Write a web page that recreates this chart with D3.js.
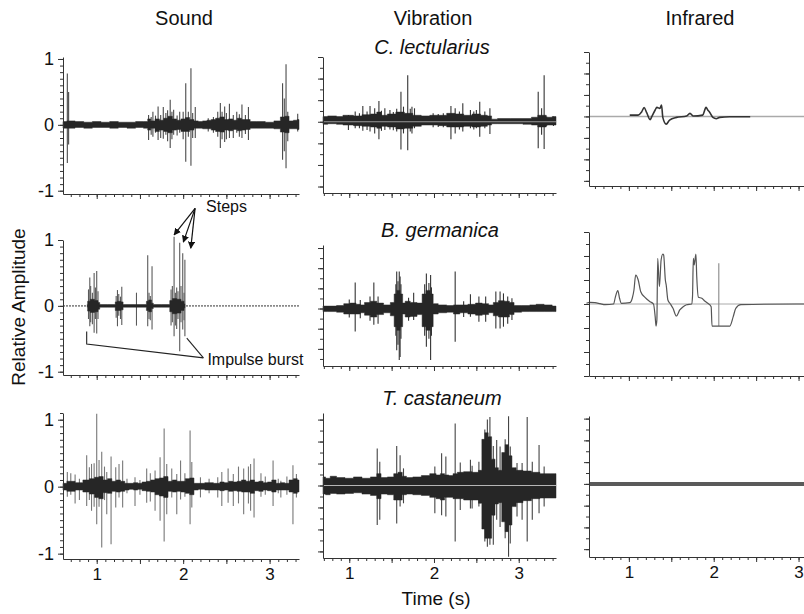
<!DOCTYPE html>
<html>
<head>
<meta charset="utf-8">
<script src="https://cdn.jsdelivr.net/npm/d3@7"></script>
<style>
  body { margin: 0; background: #fff; }
  svg text { font-family: "Liberation Sans", Arial, sans-serif; fill: #111; }
</style>
</head>
<body>
<svg id="chart" width="804" height="614"></svg>
<script>
// column / row titles
const columns = ['Sound', 'Vibration', 'Infrared'];
const species = ['C. lectularius', 'B. germanica', 'T. castaneum'];
const ampTicks = [-1, 0, 1];
const timeTicks = [1, 2, 3];

// envelopes: [time, upper, lower]; spikes: [time, top, bottom]; traces: [time, value]
const sound1Env = [[0.61,0.05,-0.05],[0.7,0.06,-0.05],[0.8,0.05,-0.04],[0.9,0.04,-0.05],[1.0,0.05,-0.04],[1.1,0.04,-0.04],[1.2,0.05,-0.05],[1.3,0.04,-0.04],[1.4,0.04,-0.05],[1.5,0.05,-0.04],[1.58,0.05,-0.05],[1.6,0.09,-0.08],[1.65,0.06,-0.05],[1.7,0.09,-0.1],[1.75,0.07,-0.08],[1.8,0.1,-0.1],[1.85,0.13,-0.12],[1.9,0.09,-0.08],[1.95,0.07,-0.07],[2.0,0.09,-0.1],[2.05,0.11,-0.1],[2.1,0.08,-0.08],[2.15,0.06,-0.05],[2.2,0.05,-0.05],[2.25,0.06,-0.06],[2.3,0.07,-0.06],[2.35,0.08,-0.08],[2.4,0.1,-0.1],[2.45,0.12,-0.11],[2.5,0.08,-0.08],[2.55,0.09,-0.09],[2.6,0.07,-0.07],[2.65,0.1,-0.09],[2.7,0.08,-0.08],[2.75,0.08,-0.07],[2.8,0.05,-0.05],[2.9,0.05,-0.05],[3.0,0.04,-0.05],[3.1,0.06,-0.06],[3.15,0.12,-0.11],[3.2,0.13,-0.12],[3.25,0.06,-0.06],[3.3,0.07,-0.06],[3.34,0.08,-0.07]];
const sound1Spikes = [[0.66,0.78,-0.58],[0.675,0.5,-0.3],[1.6,0.15,-0.23],[1.63,0.12,-0.15],[1.65,0.2,-0.18],[1.68,0.14,-0.12],[1.71,0.28,-0.23],[1.74,0.15,-0.2],[1.77,0.27,-0.21],[1.8,0.18,-0.15],[1.82,0.22,-0.25],[1.85,0.38,-0.35],[1.87,0.2,-0.22],[1.89,0.23,-0.15],[1.93,0.14,-0.16],[1.96,0.2,-0.12],[2.0,0.2,-0.22],[2.03,0.63,-0.56],[2.06,0.2,-0.18],[2.09,0.86,-0.62],[2.11,0.18,-0.2],[2.14,0.27,-0.2],[2.29,0.1,-0.1],[2.35,0.12,-0.12],[2.4,0.2,-0.18],[2.43,0.33,-0.35],[2.45,0.2,-0.22],[2.48,0.28,-0.26],[2.5,0.18,-0.22],[2.535,0.32,-0.2],[2.58,0.15,-0.2],[2.62,0.2,-0.12],[2.65,0.16,-0.18],[2.68,0.31,-0.2],[2.72,0.15,-0.14],[2.755,0.27,-0.23],[3.15,0.63,-0.53],[3.17,0.4,-0.4],[3.19,0.92,-0.66],[3.21,0.2,-0.25],[3.325,0.17,-0.1]];

const sound2Env = [[0.89,0.02,-0.02],[0.9,0.07,-0.08],[0.95,0.1,-0.1],[1.0,0.08,-0.09],[1.03,0.05,-0.05],[1.04,0.02,-0.02],[1.21,0.02,-0.02],[1.22,0.06,-0.07],[1.26,0.07,-0.07],[1.3,0.06,-0.06],[1.31,0.02,-0.02],[1.57,0.02,-0.02],[1.58,0.07,-0.07],[1.62,0.09,-0.09],[1.65,0.04,-0.04],[1.66,0.02,-0.02],[1.84,0.02,-0.02],[1.85,0.08,-0.09],[1.9,0.11,-0.12],[1.95,0.1,-0.11],[2.0,0.07,-0.07],[2.02,0.03,-0.03]];
const sound2Spikes = [[0.905,0.25,-0.2],[0.92,0.43,-0.31],[0.93,0.3,-0.25],[0.95,0.2,-0.28],[0.97,0.5,-0.41],[0.985,0.28,-0.2],[1.0,0.53,-0.42],[1.015,0.22,-0.2],[1.225,0.15,-0.18],[1.24,0.24,-0.31],[1.255,0.18,-0.15],[1.275,0.14,-0.2],[1.29,0.29,-0.29],[1.46,0.2,-0.3],[1.59,0.77,-0.31],[1.605,0.2,-0.2],[1.62,0.15,-0.22],[1.64,0.6,-0.36],[1.86,0.25,-0.3],[1.875,0.3,-0.25],[1.895,1.05,-0.46],[1.91,0.2,-0.3],[1.925,0.28,-0.35],[1.94,0.22,-0.2],[1.96,0.96,-0.69],[1.975,0.3,-0.25],[1.995,0.8,-0.36],[2.01,0.2,-0.22],[2.02,0.7,-0.46]];

const sound3Env = [[0.61,0.05,-0.05],[0.7,0.08,-0.07],[0.8,0.06,-0.05],[0.88,0.1,-0.08],[0.95,0.12,-0.11],[1.0,0.14,-0.16],[1.05,0.15,-0.18],[1.1,0.1,-0.09],[1.15,0.12,-0.1],[1.2,0.08,-0.07],[1.25,0.1,-0.08],[1.3,0.08,-0.07],[1.35,0.05,-0.05],[1.4,0.05,-0.04],[1.45,0.06,-0.05],[1.5,0.05,-0.04],[1.55,0.07,-0.06],[1.6,0.08,-0.07],[1.65,0.1,-0.08],[1.7,0.12,-0.12],[1.75,0.13,-0.14],[1.8,0.15,-0.16],[1.85,0.08,-0.07],[1.9,0.1,-0.08],[1.95,0.08,-0.07],[2.0,0.08,-0.08],[2.05,0.12,-0.1],[2.1,0.13,-0.12],[2.15,0.05,-0.05],[2.2,0.05,-0.04],[2.3,0.06,-0.05],[2.4,0.05,-0.05],[2.45,0.07,-0.06],[2.5,0.06,-0.05],[2.55,0.08,-0.07],[2.6,0.07,-0.06],[2.65,0.08,-0.07],[2.7,0.1,-0.08],[2.75,0.08,-0.08],[2.8,0.1,-0.1],[2.85,0.07,-0.06],[2.9,0.08,-0.07],[2.95,0.06,-0.05],[3.0,0.07,-0.06],[3.05,0.1,-0.08],[3.1,0.05,-0.05],[3.15,0.06,-0.05],[3.2,0.05,-0.05],[3.25,0.1,-0.08],[3.3,0.12,-0.1],[3.34,0.1,-0.08]];
const sound3Spikes = [[0.66,0.22,-0.15],[0.7,0.2,-0.12],[0.75,0.18,-0.25],[0.8,0.12,-0.2],[0.884,0.47,-0.29],[0.915,0.29,-0.2],[0.94,0.34,-0.36],[0.97,0.35,-0.3],[1.0,1.09,-0.56],[1.027,0.4,-0.3],[1.058,0.52,-0.91],[1.09,0.3,-0.2],[1.116,0.22,-0.41],[1.166,0.45,-0.86],[1.22,0.29,-0.31],[1.258,0.34,-0.16],[1.3,0.39,-0.31],[1.35,0.12,-0.1],[1.443,0.14,-0.29],[1.5,0.1,-0.12],[1.578,0.27,-0.24],[1.62,0.2,-0.22],[1.675,0.24,-0.36],[1.733,0.44,-0.51],[1.78,0.87,-0.82],[1.81,0.34,-0.41],[1.868,0.27,-0.16],[1.926,0.19,-0.41],[1.97,0.39,-0.19],[2.02,0.2,-0.15],[2.08,0.84,-0.56],[2.1,0.37,-0.31],[2.2,0.14,-0.16],[2.3,0.12,-0.1],[2.4,0.14,-0.16],[2.447,0.22,-0.29],[2.52,0.27,-0.24],[2.58,0.19,-0.29],[2.64,0.3,-0.25],[2.7,0.27,-0.41],[2.755,0.3,-0.25],[2.78,0.34,-0.36],[2.82,0.42,-0.46],[2.9,0.2,-0.15],[2.95,0.15,-0.12],[3.04,0.39,-0.29],[3.1,0.12,-0.1],[3.13,0.09,-0.16],[3.2,0.15,-0.12],[3.27,0.32,-0.56],[3.31,0.19,-0.16]];

const vib1Env = [[0.69,0.08,-0.04],[0.8,0.09,-0.03],[0.9,0.08,-0.04],[0.95,0.1,-0.05],[1.0,0.1,-0.05],[1.1,0.09,-0.06],[1.2,0.11,-0.07],[1.3,0.12,-0.08],[1.35,0.15,-0.1],[1.4,0.1,-0.07],[1.5,0.12,-0.08],[1.6,0.15,-0.11],[1.7,0.13,-0.1],[1.8,0.1,-0.07],[1.9,0.09,-0.05],[2.0,0.1,-0.05],[2.1,0.1,-0.06],[2.2,0.13,-0.08],[2.3,0.12,-0.08],[2.4,0.1,-0.07],[2.5,0.12,-0.08],[2.6,0.1,-0.07],[2.66,0.09,-0.05],[2.7,0.04,-0.03],[2.8,0.05,-0.03],[3.0,0.05,-0.03],[3.1,0.05,-0.04],[3.2,0.07,-0.05],[3.25,0.1,-0.08],[3.3,0.1,-0.08],[3.35,0.07,-0.05],[3.44,0.08,-0.05]];
const vib1Spikes = [[0.99,0.105,-0.126],[1.07,0.157,-0.1],[1.12,0.13,-0.1],[1.16,0.243,-0.137],[1.21,0.157,-0.126],[1.245,0.243,-0.152],[1.3,0.208,-0.18],[1.35,0.32,-0.27],[1.38,0.17,-0.14],[1.42,0.208,-0.126],[1.48,0.18,-0.12],[1.52,0.15,-0.13],[1.56,0.2,-0.15],[1.61,0.465,-0.43],[1.64,0.233,-0.18],[1.69,0.72,-0.44],[1.72,0.2,-0.15],[1.74,0.233,-0.18],[1.77,0.208,-0.1],[1.99,0.13,-0.085],[2.05,0.12,-0.08],[2.11,0.13,-0.085],[2.2,0.243,-0.27],[2.25,0.208,-0.18],[2.3,0.16,-0.12],[2.34,0.285,-0.152],[2.43,0.18,-0.1],[2.47,0.16,-0.12],[2.5,0.18,-0.1],[2.54,0.31,-0.23],[2.6,0.157,-0.1],[2.66,0.208,-0.19],[3.23,0.465,-0.41],[3.27,0.208,-0.2],[3.3,0.72,-0.42],[3.33,0.08,-0.065],[3.41,0.08,-0.065]];

const vib2Env = [[0.69,0.04,-0.05],[0.8,0.04,-0.05],[0.9,0.05,-0.06],[0.97,0.08,-0.09],[1.05,0.09,-0.09],[1.11,0.07,-0.09],[1.15,0.06,-0.07],[1.21,0.1,-0.11],[1.29,0.12,-0.14],[1.36,0.09,-0.1],[1.45,0.06,-0.07],[1.52,0.1,-0.12],[1.54,0.24,-0.3],[1.58,0.3,-0.36],[1.62,0.24,-0.3],[1.64,0.09,-0.09],[1.68,0.12,-0.14],[1.76,0.1,-0.13],[1.84,0.09,-0.1],[1.88,0.24,-0.3],[1.93,0.3,-0.36],[1.98,0.24,-0.3],[2.0,0.08,-0.09],[2.1,0.06,-0.07],[2.2,0.05,-0.06],[2.26,0.06,-0.09],[2.35,0.06,-0.07],[2.45,0.07,-0.09],[2.53,0.09,-0.11],[2.61,0.08,-0.1],[2.68,0.06,-0.07],[2.72,0.1,-0.12],[2.8,0.13,-0.14],[2.86,0.12,-0.14],[2.92,0.1,-0.1],[2.97,0.05,-0.06],[3.1,0.05,-0.05],[3.16,0.06,-0.05],[3.25,0.07,-0.05],[3.35,0.06,-0.05],[3.44,0.04,-0.05]];
const vib2Spikes = [[1.0,0.15,-0.15],[1.07,0.43,-0.38],[1.13,0.14,-0.16],[1.245,0.2,-0.2],[1.29,0.43,-0.27],[1.34,0.2,-0.25],[1.55,0.4,-0.45],[1.56,0.61,-0.69],[1.575,0.45,-0.6],[1.59,0.61,-0.85],[1.6,0.53,-0.8],[1.61,0.4,-0.5],[1.7,0.18,-0.2],[1.76,0.26,-0.19],[1.89,0.4,-0.45],[1.91,0.58,-0.63],[1.94,0.42,-0.5],[1.96,0.555,-0.85],[1.97,0.35,-0.45],[2.25,0.61,-0.55],[2.35,0.12,-0.14],[2.43,0.235,-0.135],[2.53,0.2,-0.22],[2.61,0.2,-0.22],[2.73,0.28,-0.33],[2.78,0.28,-0.33],[2.82,0.25,-0.3],[2.87,0.2,-0.25],[2.92,0.17,-0.19]];

const vib3Env = [[0.69,0.13,-0.13],[0.75,0.11,-0.14],[0.8,0.14,-0.12],[0.9,0.12,-0.13],[1.0,0.11,-0.12],[1.1,0.13,-0.11],[1.2,0.11,-0.13],[1.3,0.13,-0.15],[1.35,0.18,-0.2],[1.4,0.12,-0.13],[1.5,0.13,-0.14],[1.55,0.18,-0.22],[1.6,0.2,-0.22],[1.65,0.14,-0.14],[1.7,0.12,-0.13],[1.8,0.13,-0.14],[1.9,0.15,-0.15],[2.0,0.18,-0.18],[2.05,0.16,-0.2],[2.1,0.18,-0.22],[2.15,0.16,-0.18],[2.2,0.15,-0.18],[2.25,0.18,-0.2],[2.3,0.2,-0.2],[2.4,0.21,-0.22],[2.5,0.2,-0.22],[2.55,0.23,-0.27],[2.58,0.7,-0.66],[2.62,0.8,-0.8],[2.66,0.74,-0.8],[2.7,0.4,-0.45],[2.74,0.27,-0.28],[2.78,0.23,-0.26],[2.82,0.5,-0.55],[2.86,0.62,-0.7],[2.9,0.45,-0.6],[2.94,0.27,-0.32],[3.0,0.23,-0.26],[3.1,0.22,-0.23],[3.2,0.2,-0.2],[3.3,0.18,-0.19],[3.44,0.18,-0.19]];
const vib3Spikes = [[1.33,0.56,-0.6],[1.36,0.36,-0.52],[1.56,0.6,-0.575],[1.6,0.46,-0.32],[1.64,0.26,-0.27],[2.01,0.29,-0.42],[2.09,0.49,-0.45],[2.14,0.44,-0.47],[2.25,0.94,-0.85],[2.31,0.35,-0.37],[2.43,0.39,-0.35],[2.45,0.3,-0.35],[2.53,0.36,-0.32],[2.6,0.85,-0.85],[2.63,1.0,-0.93],[2.66,1.04,-0.9],[2.7,0.6,-0.9],[2.74,0.69,-0.52],[2.78,0.59,-0.63],[2.84,0.7,-0.8],[2.88,1.05,-1.08],[2.9,0.59,-0.88],[2.98,0.34,-0.47],[3.04,0.34,-0.52],[3.1,1.04,-0.85],[3.16,0.36,-0.52],[3.24,0.613,-0.42],[3.3,0.29,-0.32]];

const ir1Trace = [[1.01,0.02],[1.11,0.02],[1.15,0.07],[1.18,0.136],[1.21,0.058],[1.25,-0.05],[1.27,-0.004],[1.31,0.1],[1.33,0.14],[1.365,0.125],[1.385,0.177],[1.4,-0.015],[1.44,-0.12],[1.48,-0.056],[1.56,-0.015],[1.68,0.006],[1.72,0.048],[1.76,0.006],[1.87,0.02],[1.91,0.14],[1.93,0.1],[1.95,0.07],[1.99,-0.015],[2.03,-0.035],[2.07,-0.015],[2.19,-0.004],[2.43,-0.004]];
const ir2Trace = [[0.5,0.01],[0.54,0.023],[0.6,0.019],[0.66,0.005],[0.72,-0.01],[0.82,0.0],[0.84,0.093],[0.87,0.185],[0.89,0.08],[0.91,0.01],[1.01,0.019],[1.04,0.08],[1.06,0.194],[1.08,0.4],[1.11,0.333],[1.14,0.171],[1.19,0.093],[1.25,0.032],[1.29,0.0],[1.31,-0.176],[1.32,-0.306],[1.33,-0.222],[1.34,0.634],[1.36,0.24],[1.38,0.611],[1.4,0.694],[1.41,0.68],[1.43,0.333],[1.44,0.264],[1.46,0.055],[1.49,0.0],[1.52,-0.06],[1.56,-0.167],[1.6,-0.083],[1.64,-0.037],[1.68,-0.01],[1.74,0.0],[1.75,0.102],[1.76,0.634],[1.77,0.542],[1.79,0.694],[1.8,0.38],[1.82,0.093],[1.86,0.08],[1.89,0.046],[1.93,0.01],[1.97,-0.037],[1.98,-0.306],[2.19,-0.306],[2.23,-0.176],[2.26,-0.06],[2.32,-0.01],[2.97,0.0],[3.3,0.0]];
const ir2Spikes = [[2.06,0.565,-0.306]];
const ir3Trace = [[0.53,0.0],[3.3,0.0]];

// annotations in the B. germanica sound panel: [time, amplitude]
const stepsFrom = [2.138, 1.48];
const stepsTips = [[1.895, 1.077], [2.002, 0.967], [2.088, 0.876]];
const burstLeft = [[0.884, -0.39], [0.884, -0.58], [2.234, -0.79]];
const burstRight = [[2.042, -0.49], [2.234, -0.79]];

// layout: pixel box and domains of each panel
const colX = [[63, 299], [323, 556], [589, 824]];
const colT = [[0.61, 3.34], [0.69, 3.44], [0.53, 3.3]];

const panels = [
  {c: 0, r: 0, y: [194, 57], a: [-1.05, 1.03], env: sound1Env, spikes: sound1Spikes, spikeColor: '#4a4a4a'},
  {c: 0, r: 1, y: [375, 240], a: [-1.05, 1.0], env: sound2Env, spikes: sound2Spikes, spikeColor: '#5a5a5a', zero: {color: '#8a8a8a', width: 1.6, dash: '2,1'}},
  {c: 0, r: 2, y: [559, 413], a: [-1.08, 1.1], env: sound3Env, spikes: sound3Spikes, spikeColor: '#777'},
  {c: 1, r: 0, y: [193, 57], a: [-1.1, 1.0], env: vib1Env, spikes: vib1Spikes, spikeColor: '#333', zeroTop: '#9a9a9a'},
  {c: 1, r: 1, y: [366, 245], a: [-0.95, 1.05], env: vib2Env, spikes: vib2Spikes, spikeColor: '#333'},
  {c: 1, r: 2, y: [558, 413], a: [-1.1, 1.1], env: vib3Env, spikes: vib3Spikes, spikeColor: '#444', zeroTop: '#b5b5b5'},
  {c: 2, r: 0, y: [186, 52], a: [-1.08, 1.0], trace: ir1Trace, traceColor: '#333', traceWidth: 1.6, zero: {color: '#aaa', width: 1.5}},
  {c: 2, r: 1, y: [376, 232], a: [-1.0, 1.0], trace: ir2Trace, traceColor: '#555', traceWidth: 1.2, spikes: ir2Spikes, spikeColor: '#888', zero: {color: '#aaa', width: 1}},
  {c: 2, r: 2, y: [557, 416], a: [-1.12, 1.04], trace: ir3Trace, traceColor: '#5a5a5a', traceWidth: 4}
];

const svg = d3.select('#chart');
const axisColor = '#333';

svg.append('defs').append('marker')
  .attr('id', 'arrow')
  .attr('viewBox', '0 0 10 10')
  .attr('refX', 9).attr('refY', 5)
  .attr('markerWidth', 6).attr('markerHeight', 6)
  .attr('orient', 'auto')
  .append('path').attr('d', 'M0,0 L10,5 L0,10 Z').attr('fill', '#111');

function stepTicks(domain, step) {
  const lo = Math.ceil(domain[0] / step - 1e-6), hi = Math.floor(domain[1] / step + 1e-6);
  return d3.range(lo, hi + 1).map(k => +(k * step).toFixed(4));
}

function styleAxis(g, size) {
  g.selectAll('path.domain').attr('stroke', axisColor).attr('stroke-width', 1);
  g.selectAll('.tick line').attr('stroke', axisColor).attr('stroke-width', 1);
  g.selectAll('.tick text').attr('font-size', size).attr('fill', '#111')
    .style('font-family', '"Liberation Sans", Arial, sans-serif');
}

const scales = [];

panels.forEach(p => {
  const x = d3.scaleLinear().domain(colT[p.c]).range(colX[p.c]);
  const y = d3.scaleLinear().domain(p.a).range(p.y);
  scales.push({x, y});
  const g = svg.append('g');

  if (p.zero) {
    g.append('line')
      .attr('x1', colX[p.c][0]).attr('x2', colX[p.c][1])
      .attr('y1', y(0)).attr('y2', y(0))
      .attr('stroke', p.zero.color).attr('stroke-width', p.zero.width)
      .attr('stroke-dasharray', p.zero.dash || null);
  }

  if (p.spikes) {
    g.selectAll('line.spike').data(p.spikes).join('line')
      .attr('class', 'spike')
      .attr('x1', d => x(d[0])).attr('x2', d => x(d[0]))
      .attr('y1', d => y(d[1])).attr('y2', d => y(d[2]))
      .attr('stroke', p.spikeColor).attr('stroke-width', 1.1);
  }

  if (p.env) {
    g.append('path').datum(p.env)
      .attr('d', d3.area().curve(d3.curveStep).x(d => x(d[0])).y0(d => y(d[2])).y1(d => y(d[1])))
      .attr('fill', '#262626').attr('stroke', '#262626').attr('stroke-width', 0.5);
  }

  if (p.zeroTop) {
    g.append('line')
      .attr('x1', colX[p.c][0]).attr('x2', colX[p.c][1])
      .attr('y1', y(0)).attr('y2', y(0))
      .attr('stroke', p.zeroTop).attr('stroke-width', 1);
  }

  if (p.trace) {
    g.append('path').datum(p.trace)
      .attr('d', d3.line().curve(d3.curveMonotoneX).x(d => x(d[0])).y(d => y(d[1])))
      .attr('fill', 'none').attr('stroke', p.traceColor).attr('stroke-width', p.traceWidth);
  }

  // y axis: minor + major ticks
  const yStep = p.c === 0 ? 0.1 : 1 / 6;
  const yMajor = p.c === 0 ? ampTicks : stepTicks(p.a, 1 / 3);
  const yl = g.append('g').attr('transform', `translate(${colX[p.c][0]},0)`);
  yl.call(d3.axisLeft(y).tickValues(stepTicks(p.a, yStep)).tickSize(3).tickSizeOuter(0).tickFormat(''));
  yl.append('g').call(d3.axisLeft(y).tickValues(yMajor).tickSize(5).tickSizeOuter(0).tickPadding(4)
    .tickFormat(d => p.c === 0 ? String(d) : ''))
    .call(s => s.select('path.domain').remove());
  styleAxis(yl, 18);

  // x axis
  const xb = g.append('g').attr('transform', `translate(0,${p.y[0]})`);
  xb.call(d3.axisBottom(x).tickValues(stepTicks(colT[p.c], 0.1)).tickSize(3).tickSizeOuter(0).tickFormat(''));
  xb.append('g').call(d3.axisBottom(x).tickValues(stepTicks(colT[p.c], 0.5))
    .tickSize(5).tickSizeOuter(0).tickPadding(4)
    .tickFormat(d => (p.r === 2 && timeTicks.includes(d)) ? String(d) : ''))
    .call(s => s.select('path.domain').remove());
  styleAxis(xb, 17);
});

// column headers
const headerX = [184, 433, 700];
svg.selectAll('text.header').data(columns).join('text')
  .attr('class', 'header')
  .attr('x', (d, i) => headerX[i]).attr('y', 25)
  .attr('text-anchor', 'middle').attr('font-size', 20)
  .text(d => d);

// species names
const speciesPos = [[432, 54], [440, 237], [442, 405]];
svg.selectAll('text.species').data(species).join('text')
  .attr('class', 'species')
  .attr('x', (d, i) => speciesPos[i][0]).attr('y', (d, i) => speciesPos[i][1])
  .attr('text-anchor', 'middle').attr('font-size', 20).attr('font-style', 'italic')
  .text(d => d);

svg.append('text')
  .attr('transform', 'translate(25,307) rotate(-90)')
  .attr('text-anchor', 'middle').attr('font-size', 19)
  .text('Relative Amplitude');

svg.append('text')
  .attr('x', 436).attr('y', 605)
  .attr('text-anchor', 'middle').attr('font-size', 19)
  .text('Time (s)');

// annotations on the B. germanica sound panel
const s2 = scales[1];
const ann = svg.append('g');
stepsTips.forEach(tip => {
  ann.append('line')
    .attr('x1', s2.x(stepsFrom[0])).attr('y1', s2.y(stepsFrom[1]))
    .attr('x2', s2.x(tip[0])).attr('y2', s2.y(tip[1]))
    .attr('stroke', '#111').attr('stroke-width', 1.2)
    .attr('marker-end', 'url(#arrow)');
});
ann.append('text')
  .attr('x', s2.x(stepsFrom[0]) + 11).attr('y', s2.y(stepsFrom[1]) + 4)
  .attr('font-size', 16).text('Steps');

const pathLine = d3.line().x(d => s2.x(d[0])).y(d => s2.y(d[1]));
[burstLeft, burstRight].forEach(pts => {
  ann.append('path').attr('d', pathLine(pts))
    .attr('fill', 'none').attr('stroke', '#222').attr('stroke-width', 1.1);
});
ann.append('text')
  .attr('x', s2.x(burstLeft[2][0]) + 4).attr('y', s2.y(burstLeft[2][1]) + 7)
  .attr('font-size', 16).text('Impulse burst');
</script>
</body>
</html>
